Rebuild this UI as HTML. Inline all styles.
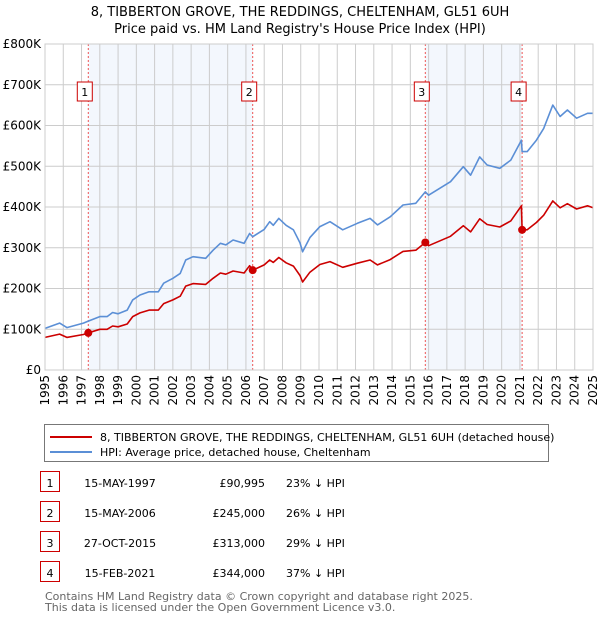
<!DOCTYPE html>
<html><head><meta charset="utf-8"><style>
body{margin:0;background:#fff;width:600px;height:620px;overflow:hidden;font-family:"DejaVu Sans","Liberation Sans",sans-serif;color:#000}
svg{position:absolute;left:0;top:0}
</style></head><body>
<svg id="c" width="600" height="620"></svg>
<script>
const hpiYears=[1995.0,1995.8,1996.2,1997.1,1997.37,1998.0,1998.4,1998.7,1999.0,1999.5,1999.8,2000.2,2000.7,2001.2,2001.5,2002.0,2002.4,2002.7,2003.1,2003.8,2004.2,2004.6,2004.9,2005.3,2005.9,2006.2,2006.37,2007.0,2007.3,2007.5,2007.8,2008.2,2008.6,2008.96,2009.1,2009.5,2010.05,2010.6,2011.3,2012.1,2012.8,2013.2,2013.9,2014.6,2015.3,2015.82,2016.0,2017.2,2017.9,2018.3,2018.8,2019.2,2019.9,2020.5,2021.08,2021.12,2021.4,2021.9,2022.3,2022.8,2023.2,2023.6,2024.1,2024.7,2025.0];
const hpiValues=[102,115,104,115,120,131,131,141,138,147,172,184,192,192,213,225,237,270,278,274,294,311,307,319,311,335,327,345,364,355,372,355,344,312,290,325,352,364,344,360,372,356,376,405,409,437,429,462,499,478,523,503,495,515,564,536,536,564,593,650,622,638,618,630,630];
const priceValues=[80,88,80,87,91,100,100,108,106,113,131,140,147,147,163,172,181,206,212,210,225,238,235,243,238,256,245,258,270,264,276,263,255,232,216,240,259,266,252,262,270,258,271,291,294,313,305,328,354,339,371,357,351,366,403,344,344,362,380,415,398,408,395,403,398];
const saleYears=[1997.37,2006.37,2015.82,2021.12];
const salePrices=[91,245,313,344];
const saleLabels=["1","2","3","4"];
const yTicks=[0,100,200,300,400,500,600,700,800];
const yTickLabels=["£0","£100K","£200K","£300K","£400K","£500K","£600K","£700K","£800K"];

const X0=45,X1=593,Y0=370,Y1=44;
const sx=y=>X0+(y-1995)/30*(X1-X0);
const sy=v=>Y0-v/800*(Y0-Y1);
const svg=document.getElementById('c');
const NS='http://www.w3.org/2000/svg';
function mk(t,a,txt){const e=document.createElementNS(NS,t);for(const k in a)e.setAttribute(k,a[k]);if(txt!=null)e.textContent=txt;svg.appendChild(e);return e;}

let e;
e=mk('text',{x:300,y:16,'text-anchor':'middle','font-size':'13'},'8, TIBBERTON GROVE, THE REDDINGS, CHELTENHAM, GL51 6UH');


e=mk('text',{x:300,y:33,'text-anchor':'middle','font-size':'13'},"Price paid vs. HM Land Registry's House Price Index (HPI)");



// shaded bands
for(let i=0;i<saleYears.length;i+=2){
  e=mk('rect',{x:sx(saleYears[i]),y:Y1,width:sx(saleYears[i+1])-sx(saleYears[i]),height:Y0-Y1,fill:'#eef3fc',opacity:0.7});
  
  
}
// grid
for(let y=1995;y<=2025;y++){
  e=mk('line',{x1:sx(y),x2:sx(y),y1:Y1,y2:Y0,stroke:'#cccccc','stroke-width':1});
  
  
  e=mk('text',{transform:`translate(${sx(y)+4},${Y0+5}) rotate(-90)`,'text-anchor':'end','font-size':'12'},String(y));
  
  
}
yTicks.forEach((v,i)=>{
  e=mk('line',{x1:X0,x2:X1,y1:sy(v),y2:sy(v),stroke:'#cccccc','stroke-width':1});
  
  
  e=mk('text',{x:X0-4,y:sy(v)+4,'text-anchor':'end','font-size':'12'},yTickLabels[i]);
  
  
});
// sale lines
saleYears.forEach((y,i)=>{
  e=mk('line',{x1:sx(y),x2:sx(y),y1:Y1,y2:Y0,stroke:'#ee5555','stroke-width':1,'stroke-dasharray':'2,2'});
  
  
  e=mk('rect',{x:sx(y)-11,y:82,width:15,height:19,fill:'#fff',stroke:'#cc0000','stroke-width':1});
  
  
  e=mk('text',{x:sx(y)-3.5,y:96,'text-anchor':'middle','font-size':'11'},saleLabels[i]);
  
  
});
function path(vals,col,name){
  const d=hpiYears.map((y,i)=>(i?'L':'M')+sx(y).toFixed(1)+','+sy(vals[i]).toFixed(1)).join('');
  const p=mk('path',{d:d,fill:'none',stroke:col,'stroke-width':1.6,'stroke-linejoin':'round'});
  
  
}
path(hpiValues,'#5b8fd6','hpi-line');
path(priceValues,'#cc0000','price-paid-line');
saleYears.forEach((y,i)=>{
  e=mk('circle',{cx:sx(y),cy:sy(salePrices[i]),r:4,fill:'#cc0000'});
  
  
});
e=mk('rect',{x:X0,y:Y1,width:X1-X0,height:Y0-Y1,fill:'none',stroke:'#cccccc'});



// legend
e=mk('rect',{x:44.5,y:424.5,width:504,height:37,fill:'#fff',stroke:'#777'});


e=mk('line',{x1:50,x2:92,y1:437,y2:437,stroke:'#cc0000','stroke-width':2});


e=mk('text',{x:100,y:441,'font-size':'11'},'8, TIBBERTON GROVE, THE REDDINGS, CHELTENHAM, GL51 6UH (detached house)');


e=mk('line',{x1:50,x2:92,y1:452,y2:452,stroke:'#5b8fd6','stroke-width':2});


e=mk('text',{x:100,y:456,'font-size':'11'},'HPI: Average price, detached house, Cheltenham');



// table
const rowDates=['15-MAY-1997','15-MAY-2006','27-OCT-2015','15-FEB-2021'];
const rowPrices=['£90,995','£245,000','£313,000','£344,000'];
const rowPct=['23% ↓ HPI','26% ↓ HPI','29% ↓ HPI','37% ↓ HPI'];
const rowY=[483,513,543,573];
rowY.forEach((ry,i)=>{
  e=mk('rect',{x:40.5,y:ry-11.5,width:19,height:20,fill:'#fff',stroke:'#cc0000'});
  
  
  e=mk('text',{x:50,y:ry+4,'text-anchor':'middle','font-size':'11'},saleLabels[i]);
  
  
  e=mk('text',{x:120,y:ry+4,'text-anchor':'middle','font-size':'11'},rowDates[i]);
  
  
  e=mk('text',{x:265,y:ry+4,'text-anchor':'end','font-size':'11'},rowPrices[i]);
  
  
  e=mk('text',{x:286,y:ry+4,'font-size':'11'},rowPct[i]);
  
  
});
e=mk('text',{x:45,y:600,'font-size':'11',fill:'#666'},'Contains HM Land Registry data © Crown copyright and database right 2025.');


e=mk('text',{x:45,y:611,'font-size':'11',fill:'#666'},'This data is licensed under the Open Government Licence v3.0.');


</script>
</body></html>
